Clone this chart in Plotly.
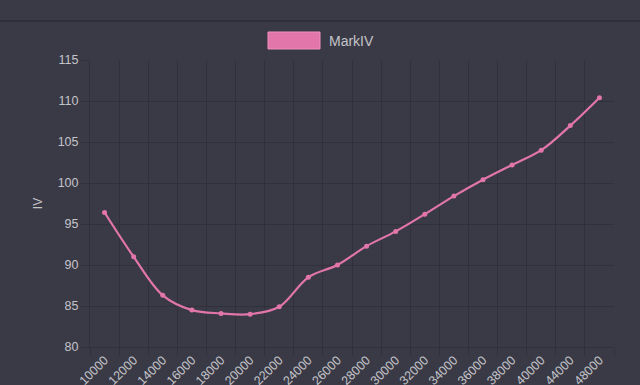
import plotly.graph_objects as go

categories = ["10000", "12000", "14000", "16000", "18000", "20000", "22000", "24000", "26000",
              "28000", "30000", "32000", "34000", "36000", "38000", "40000", "44000", "48000"]
iv_values = [96.4, 91.0, 86.3, 84.5, 84.1, 84.0, 84.9, 88.5, 90.0,
             92.3, 94.1, 96.2, 98.4, 100.4, 102.2, 104.0, 107.0, 110.4]
series_name = "MarkIV"
y_title = "IV"

bg = "#3a3a47"
grid = "#31313c"
pink = "#e276aa"
txt = "#c4c4c8"

fig = go.Figure()
fig.add_trace(go.Scatter(
    x=categories, y=iv_values, name=series_name, mode="lines+markers",
    line=dict(color=pink, width=2.2, shape="spline", smoothing=1.0),
    marker=dict(color=pink, size=5),
    showlegend=False,
))

# Chart.js-like legend box
fig.add_shape(type="rect", xref="paper", yref="paper",
              x0=(268 - 90) / 524, x1=(320 - 90) / 524,
              y0=(347 - 49) / 287, y1=(347 - 32) / 287,
              fillcolor=pink, line=dict(color="#f090bd", width=1))
fig.add_annotation(text=series_name, xref="paper", yref="paper",
                   x=(327 - 90) / 524, y=(347 - 41) / 287, xanchor="left", yanchor="middle",
                   showarrow=False, font=dict(size=14, color=txt, family="Liberation Sans"))
# top separator line
fig.add_shape(type="line", xref="paper", yref="paper",
              x0=-90 / 524, x1=(640 - 90) / 524,
              y0=(347 - 21) / 287, y1=(347 - 21) / 287,
              line=dict(color="#2c2c36", width=1.5))

fig.update_layout(
    width=640, height=385,
    paper_bgcolor=bg, plot_bgcolor=bg,
    margin=dict(l=90, r=26, t=60, b=38),
    font=dict(family="Liberation Sans", color=txt, size=12),
)
fig.update_xaxes(
    type="category", tickson="boundaries", tickangle=-45,
    range=[-0.5, len(categories) - 0.5],
    showgrid=True, gridcolor=grid, gridwidth=1,
    ticks="outside", ticklen=8, tickcolor=grid,
    showline=True, linecolor=grid, zeroline=False,
    tickfont=dict(size=12.5, color=txt), automargin=False,
)
fig.update_yaxes(
    range=[80, 115], dtick=5, tick0=80,
    showgrid=True, gridcolor=grid, gridwidth=1,
    ticks="outside", ticklen=8, tickcolor=grid,
    showline=True, linecolor=grid, zeroline=False,
    tickfont=dict(size=12.5, color=txt), automargin=False,
    title=dict(text=y_title, font=dict(size=12, color=txt), standoff=12),
)

fig.write_html("out.html", config={"displayModeBar": False},
               post_script="document.body.style.margin='0';document.body.style.overflow='hidden';document.body.style.background='#3a3a47';")
